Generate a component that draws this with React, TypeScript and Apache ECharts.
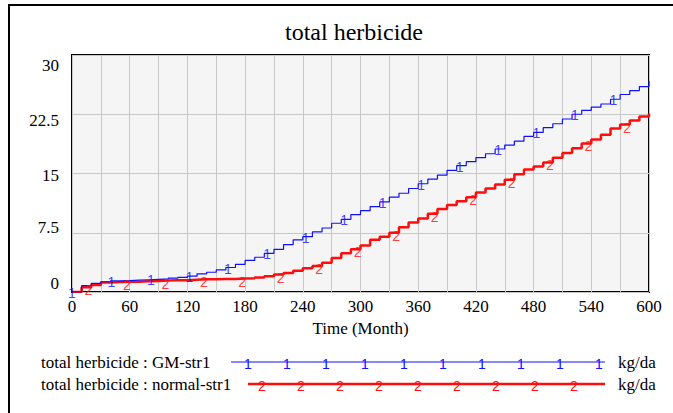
import React, { useEffect, useRef } from "react";
import * as echarts from "echarts";

// Time axis (months) at which the simulated stocks are sampled
const times = [
  0, 10, 20, 30, 40, 50, 60, 70, 80, 90, 100, 110, 120, 130, 140, 150, 160, 170, 180, 190,
  200, 210, 220, 230, 240, 250, 260, 270, 280, 290, 300, 310, 320, 330, 340, 350, 360, 370, 380, 390,
  400, 410, 420, 430, 440, 450, 460, 470, 480, 490, 500, 510, 520, 530, 540, 550, 560, 570, 580, 590, 600,
];

// total herbicide : GM-str1 (kg/da)
const gmValues = [
  0, 0.8, 1.1, 1.3, 1.4, 1.45, 1.5, 1.55, 1.6, 1.65, 1.75, 1.85, 2.0, 2.3, 2.5, 2.8, 3.1, 3.5, 4.0, 4.4,
  4.9, 5.4, 6.0, 6.6, 7.0, 7.6, 8.1, 8.7, 9.2, 9.8, 10.3, 10.8, 11.4, 12.0, 12.5, 13.1, 13.7, 14.3, 14.8, 15.4,
  16.0, 16.5, 17.0, 17.5, 18.1, 18.6, 19.1, 19.7, 20.2, 20.8, 21.3, 21.9, 22.5, 23.0, 23.4, 23.8, 24.4, 25.0, 25.5, 26.0, 26.7,
];

// total herbicide : normal-str1 (kg/da)
const normalValues = [
  0, 0.6, 0.9, 1.2, 1.25, 1.3, 1.3, 1.35, 1.4, 1.45, 1.5, 1.5, 1.55, 1.6, 1.6, 1.65, 1.65, 1.7, 1.75, 1.85,
  2.0, 2.2, 2.4, 2.7, 3.0, 3.3, 3.7, 4.3, 4.9, 5.4, 5.9, 6.6, 7.0, 7.5, 8.2, 8.8, 9.3, 9.9, 10.5, 11.0,
  11.5, 12.0, 12.6, 13.1, 13.6, 14.2, 14.9, 15.5, 15.9, 16.4, 17.0, 17.6, 18.2, 18.8, 19.3, 19.9, 20.7, 21.2, 21.7, 22.2, 22.6,
];

// Times where the series number markers ("1" / "2") are drawn
const gmMarkerTimes = [0, 41, 82, 122, 162, 203, 243, 283, 323, 363, 403, 443, 483, 523, 563];
const normalMarkerTimes = [16, 56, 96, 136, 176, 216, 256, 296, 336, 376, 416, 456, 496, 536, 576];

const xTickLabels = ["0", "60", "120", "180", "240", "300", "360", "420", "480", "540", "600"];
const yTickLabels = ["0", "7.5", "15", "22.5", "30"];

const seriesNames = ["total herbicide : GM-str1", "total herbicide : normal-str1"];
const unit = "kg/da";

const BLUE = "#1010ff";
const RED = "#ff0d0d";
const SERIF = "Liberation Serif";
const SANS = "Liberation Sans";

function stepValueAt(t: number, values: number[]): number {
  let idx = 0;
  for (let i = 0; i < times.length; i++) {
    if (times[i] <= t) idx = i;
  }
  return values[idx];
}

export default function App() {
  const ref = useRef<HTMLDivElement>(null);

  useEffect(() => {
    if (!ref.current) return;
    const chart = echarts.init(ref.current, undefined, { renderer: "svg" });

    const gmData = times.map((t, i) => [t, gmValues[i]]);
    const normalData = times.map((t, i) => [t, normalValues[i]]);
    const gmMarkers = gmMarkerTimes.map((t) => [t, stepValueAt(t, gmValues)]);
    const normalMarkers = normalMarkerTimes.map((t) => [t, stepValueAt(t, normalValues)]);

    const yShift: Record<string, string> = {
      "30": "{s20| }\n{t|30}",
      "22.5": "{s12| }\n{t|22.5}",
      "15": "{s3| }\n{t|15}",
      "7.5": "{t|7.5}\n{s10| }",
      "0": "{t|0}\n{s18| }",
    };

    const legendRows: any[] = [];
    const rowDefs = [
      { y: 362, color: BLUE, width: 1.2, x1: 231, mark: "1", firstMark: 248, count: 10 },
      { y: 384, color: RED, width: 2.5, x1: 248, mark: "2", firstMark: 262, count: 9 },
    ];
    rowDefs.forEach((r, k) => {
      legendRows.push({
        type: "text",
        x: 41,
        y: r.y,
        style: {
          text: seriesNames[k],
          fontFamily: SERIF,
          fontSize: 17,
          fill: "#000",
          verticalAlign: "middle",
        },
      });
      legendRows.push({
        type: "line",
        shape: { x1: r.x1, y1: r.y, x2: 605, y2: r.y },
        style: { stroke: r.color, lineWidth: r.width },
      });
      for (let i = 0; i < r.count; i++) {
        legendRows.push({
          type: "text",
          x: r.firstMark + i * 39,
          y: r.y + 2,
          style: {
            text: r.mark,
            fontFamily: SANS,
            fontSize: 14,
            fill: r.color,
            align: "center",
            verticalAlign: "middle",
          },
        });
      }
      legendRows.push({
        type: "text",
        x: 618,
        y: r.y,
        style: {
          text: unit,
          fontFamily: SERIF,
          fontSize: 17,
          fill: "#000",
          verticalAlign: "middle",
        },
      });
    });

    const option: any = {
      animation: false,
      backgroundColor: "#ffffff",
      title: {
        text: "total herbicide",
        left: 349,
        top: 15,
        textAlign: "center",
        textStyle: { fontFamily: SERIF, fontSize: 24, fontWeight: "normal", color: "#000" },
      },
      grid: {
        left: 72,
        right: 24,
        top: 55,
        bottom: 121,
        show: true,
        backgroundColor: "#f5f5f5",
        borderColor: "#000",
        borderWidth: 2,
      },
      xAxis: {
        type: "value",
        min: 0,
        max: 600,
        interval: 30,
        name: "Time (Month)",
        nameLocation: "middle",
        nameGap: 26,
        nameTextStyle: { fontFamily: SERIF, fontSize: 17, color: "#000" },
        axisLine: { show: false },
        axisTick: { show: false },
        splitLine: { show: true, lineStyle: { color: "#c8c8c8", width: 1 } },
        axisLabel: {
          margin: 6,
          fontFamily: SERIF,
          fontSize: 17,
          color: "#000",
          showMinLabel: true,
          showMaxLabel: true,
          hideOverlap: false,
          formatter: (v: number) => {
            const s = String(v);
            return xTickLabels.indexOf(s) >= 0 ? s : "";
          },
        },
      },
      yAxis: {
        type: "value",
        min: 0,
        max: 30,
        interval: 7.5,
        axisLine: { show: false },
        axisTick: { show: false },
        splitLine: { show: true, lineStyle: { color: "#c8c8c8", width: 1 } },
        axisLabel: {
          margin: 13,
          color: "#000",
          showMinLabel: true,
          showMaxLabel: true,
          formatter: (v: number) => {
            const s = String(v);
            return yTickLabels.indexOf(s) >= 0 ? yShift[s] : "";
          },
          rich: {
            t: { fontFamily: SERIF, fontSize: 17, color: "#000", lineHeight: 19 },
            s20: { fontSize: 1, lineHeight: 20 },
            s12: { fontSize: 1, lineHeight: 12 },
            s3: { fontSize: 1, lineHeight: 3 },
            s10: { fontSize: 1, lineHeight: 10 },
            s18: { fontSize: 1, lineHeight: 18 },
          },
        },
      },
      series: [
        {
          name: seriesNames[1],
          type: "line",
          step: "end",
          data: normalData,
          showSymbol: false,
          lineStyle: { color: RED, width: 2.5 },
          z: 2,
        },
        {
          name: seriesNames[0],
          type: "line",
          step: "end",
          data: gmData,
          showSymbol: false,
          lineStyle: { color: BLUE, width: 1.2 },
          z: 3,
        },
        {
          type: "scatter",
          data: normalMarkers,
          symbolSize: 0,
          z: 4,
          label: {
            show: true,
            position: "inside",
            offset: [1, 3],
            formatter: "2",
            fontFamily: SANS,
            fontSize: 14,
            color: RED,
          },
        },
        {
          type: "scatter",
          data: gmMarkers,
          symbolSize: 0,
          z: 5,
          label: {
            show: true,
            position: "inside",
            offset: [0, 1],
            formatter: "1",
            fontFamily: SANS,
            fontSize: 14,
            color: BLUE,
          },
        },
      ],
      graphic: [
        {
          type: "rect",
          shape: { x: 9, y: 5, width: 700, height: 500 },
          style: { fill: "none", stroke: "#000", lineWidth: 2 },
          silent: true,
        },
        ...legendRows,
      ],
    };

    chart.setOption(option);
    return () => chart.dispose();
  }, []);

  return (
    <div
      ref={ref}
      style={{ position: "fixed", left: 0, top: 0, width: 673, height: 413, background: "#fff" }}
    />
  );
}
